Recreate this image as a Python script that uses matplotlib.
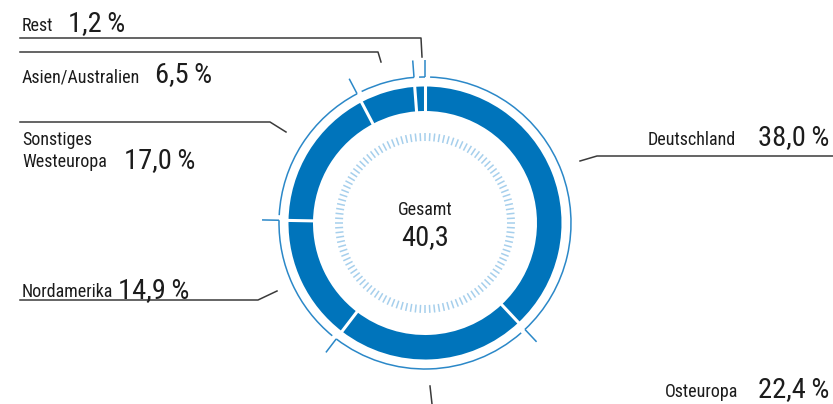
import numpy as np
import matplotlib
matplotlib.use("Agg")
import matplotlib.pyplot as plt
from matplotlib.patches import Wedge, Arc

plt.rcParams["font.family"] = ["Roboto Condensed", "DejaVu Sans Condensed",
                               "Liberation Sans Narrow", "Roboto", "DejaVu Sans"]

# regional share of revenue, clockwise from 12 o'clock
regions = ["Deutschland", "Osteuropa", "Nordamerika", "Sonstiges\nWesteuropa",
           "Asien/Australien", "Rest"]
shares = [38.0, 22.4, 14.9, 17.0, 6.5, 1.2]
total_label = "Gesamt"
total_value = "40,3"

BLUE = "#0074bb"
RING = "#2b88c8"
DASH = "#a6cfec"
INK = "#1c1c1c"
LEADER = "#3a3a3a"

cx, cy = 425, 223
r_out, r_in = 136.5, 112
r_ring = 146
r_tick = 163

fig = plt.figure(figsize=(8.33, 4.04), dpi=100)
ax = fig.add_axes([0, 0, 1, 1])
ax.set_xlim(0, 833)
ax.set_ylim(404, 0)
ax.axis("off")


def polar(r, theta_deg):
    t = np.deg2rad(theta_deg)
    return cx + r * np.cos(t), cy + r * np.sin(t)


# boundaries in data angles (y axis points down, so increasing angle = clockwise)
cum = np.concatenate([[0], np.cumsum(shares)]) / sum(shares)
angles = -90 + 360 * cum

# thick blue segments
for a0, a1 in zip(angles[:-1], angles[1:]):
    ax.add_patch(Wedge((cx, cy), r_out, a0, a1, width=r_out - r_in,
                       facecolor=BLUE, edgecolor="none"))

# white separators between segments
for a in angles[:-1]:
    x0, y0 = polar(r_in - 2, a)
    x1, y1 = polar(r_out + 2, a)
    ax.plot([x0, x1], [y0, y1], color="white", lw=2.2, solid_capstyle="butt")

# thin outer ring: one arc per segment, tick at its clockwise end
gap = 2.0
for a0, a1 in zip(angles[:-1], angles[1:]):
    ax.add_patch(Arc((cx, cy), 2 * r_ring, 2 * r_ring, theta1=a0 + gap, theta2=a1,
                     color=RING, lw=1.1))
    x0, y0 = polar(r_ring, a1)
    x1, y1 = polar(r_tick, a1)
    ax.plot([x0, x1], [y0, y1], color=RING, lw=1.1, solid_capstyle="butt")

# inner ring of short light-blue dashes
for a in np.linspace(0, 360, 116, endpoint=False):
    x0, y0 = polar(82, a)
    x1, y1 = polar(90, a)
    ax.plot([x0, x1], [y0, y1], color=DASH, lw=1.1, solid_capstyle="butt")

# centre label
ax.text(cx, 215, total_label, ha="center", va="baseline", fontsize=13, color=INK)
ax.text(cx, 245, total_value, ha="center", va="baseline", fontsize=20.5, color=INK)


def fmt(v):
    return f"{v:.1f}".replace(".", ",") + "\u2009%"


# label placement: (label x, label baseline, value x, value baseline, align)
label_pos = {
    "Deutschland": (736, 145, 829, 145, "right"),
    "Osteuropa": (738, 397, 829, 397, "right"),
    "Nordamerika": (22, 297, 118, 298, "left"),
    "Sonstiges\nWesteuropa": (22, 167, 124, 168, "left"),
    "Asien/Australien": (22, 82, 155, 82, "left"),
    "Rest": (22, 31, 68, 31, "left"),
}
for name, val in zip(regions, shares):
    lx, ly, vx, vy, ha = label_pos[name]
    ax.text(lx, ly, name, ha=ha, va="baseline", fontsize=13, color=INK,
            linespacing=1.3, multialignment="left")
    ax.text(vx, vy, fmt(val), ha=ha, va="baseline", fontsize=20.5, color=INK)

# leader lines
leaders = [
    [(20, 38), (421, 38), (422, 57)],
    [(20, 52), (378, 52), (381, 62)],
    [(20, 122), (270, 122), (286, 132)],
    [(833, 156), (597, 156), (580, 161)],
    [(20, 300), (258, 300), (277, 291)],
    [(430, 386), (432, 404)],
]
for pts in leaders:
    xs, ys = zip(*pts)
    ax.plot(xs, ys, color=LEADER, lw=1.1)

fig.savefig("out.png", dpi=100)
